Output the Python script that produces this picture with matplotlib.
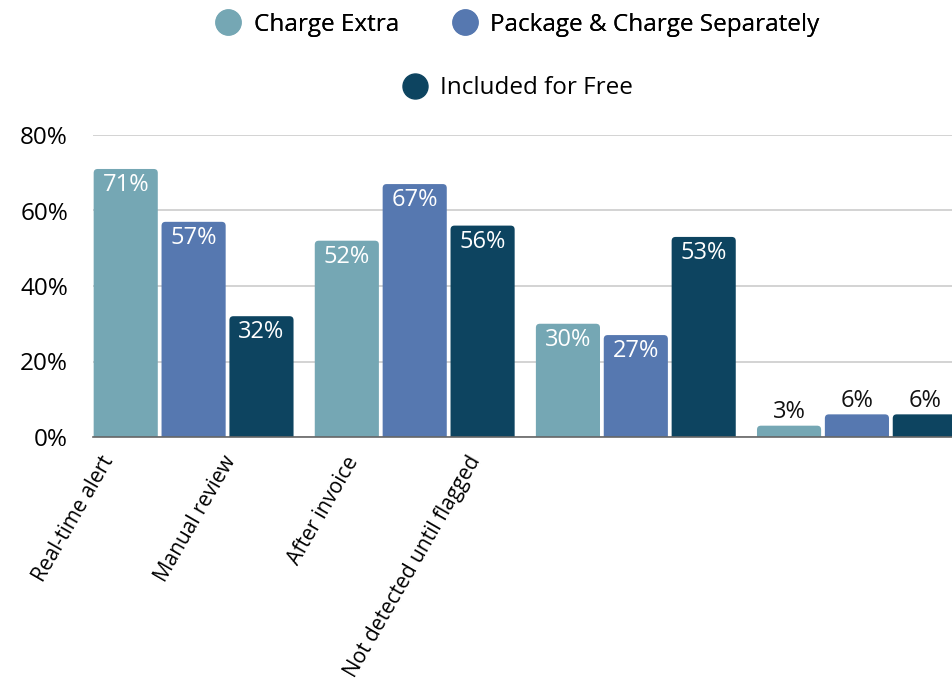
import numpy as np
import matplotlib.pyplot as plt
from matplotlib.lines import Line2D
from matplotlib.patches import FancyBboxPatch

plt.rcParams['font.family'] = ['Open Sans', 'DejaVu Sans']

# data
categories = ['Real-time alert', 'Manual review', 'After invoice', 'Not detected until flagged']
series = ['Charge Extra', 'Package & Charge Separately', 'Included for Free']
charge_extra = [71, 52, 30, 3]
package_sep = [57, 67, 27, 6]
included_free = [32, 56, 53, 6]
y_ticks = [0, 20, 40, 60, 80]

colors = ['#75A7B4', '#5678B0', '#0D4460']
values = [charge_extra, package_sep, included_free]

fig = plt.figure(figsize=(9.52, 6.86), dpi=100)
ax = fig.add_axes([93 / 952, 249 / 686, 859 / 952, 302 / 686])

ax.set_xlim(-0.455, 3.43)
ax.set_ylim(0, 80)

x = np.arange(len(categories))
w = 0.29
step = 0.307
# px per data unit, for round corners
aspect = (859 / 3.885) / (302 / 80)
for i, (vals, col) in enumerate(zip(values, colors)):
    xs = x + (i - 1) * step
    bars = ax.bar(xs, vals, width=w, color=col, zorder=3)
    for b in bars:
        b.set_visible(False)
        ax.add_patch(FancyBboxPatch((b.get_x(), -3), b.get_width(), b.get_height() + 3,
                                    boxstyle='round,pad=0,rounding_size=0.018',
                                    mutation_aspect=aspect, color=col, zorder=3,
                                    linewidth=0))
    for xx, v in zip(xs, vals):
        if v >= 10:
            ax.annotate(f'{v}%', (xx, v), xytext=(0, -3), textcoords='offset points',
                        ha='center', va='top', color='white', fontsize=17, zorder=4)
        else:
            ax.annotate(f'{v}%', (xx, v), xytext=(0, 1), textcoords='offset points',
                        ha='center', va='bottom', color='#111111', fontsize=17, zorder=4)

ax.set_yticks(y_ticks)
ax.set_yticklabels([f'{t}%' for t in y_ticks], fontsize=17.5)
ax.yaxis.grid(True, color='#cccccc', linewidth=1.2, zorder=0)
ax.tick_params(axis='y', length=0, pad=18)

# category labels sit at their own spots, offset from the bar groups
label_pos = np.arange(len(categories)) * 0.554 - 0.383
ax.set_xticks(label_pos)
ax.set_xticklabels(categories, rotation=60, ha='right', va='center',
                   rotation_mode='anchor', fontsize=15)
ax.tick_params(axis='x', length=0, pad=15)

for s in ['top', 'right', 'left']:
    ax.spines[s].set_visible(False)
ax.spines['bottom'].set_color('#666666')
ax.spines['bottom'].set_linewidth(1.2)
ax.spines['bottom'].set_zorder(5)

handles = [Line2D([], [], marker='o', linestyle='', markersize=18, color=c) for c in colors]
leg1 = fig.legend(handles[:2], series[:2], loc='center', bbox_to_anchor=(0.544, 0.964),
                  ncol=2, frameon=False, fontsize=17.5, handlelength=1.0,
                  handletextpad=0.55, columnspacing=2.2)
fig.add_artist(leg1)
fig.legend(handles[2:], series[2:], loc='center', bbox_to_anchor=(0.544, 0.871),
           frameon=False, fontsize=17.5, handlelength=1.0, handletextpad=0.55)

fig.savefig('out.png', dpi=100)
